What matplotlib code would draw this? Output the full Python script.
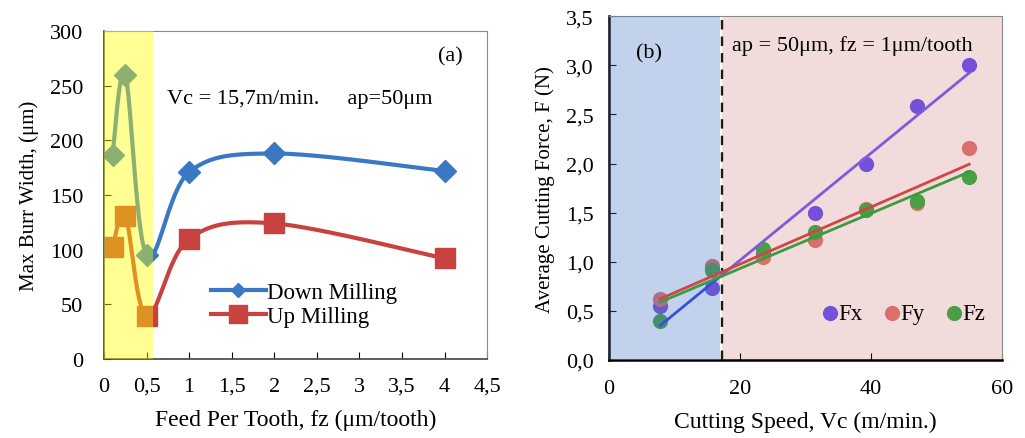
import numpy as np
import matplotlib
matplotlib.use("Agg")
import matplotlib.pyplot as plt
from matplotlib.ticker import FuncFormatter

plt.rcParams['font.family'] = ['Liberation Serif', 'DejaVu Serif']
plt.rcParams['font.size'] = 16

# ---- data, panel (a) ----
fz = [0.1, 0.25, 0.5, 1, 2, 4]
down_milling = [187, 260, 95, 171, 188, 172]
up_milling = [102, 131, 39, 110, 124, 92]

# ---- data, panel (b) ----
vc = [7.85, 15.7, 23.55, 31.4, 39.25, 47.1, 55]
fx = [0.55, 0.73, 1.08, 1.50, 2.00, 2.59, 3.00]
fy = [0.62, 0.96, 1.05, 1.22, 1.54, 1.60, 2.16]
fz_force = [0.40, 0.92, 1.13, 1.30, 1.53, 1.62, 1.86]

vc_split = 17.3   # dashed boundary between the two regimes


def smooth(x, y, xs, ys, n=40):
    # Excel-like smoothed line (Catmull-Rom), done in normalised coordinates
    p = np.column_stack([np.array(x) / xs, np.array(y) / ys])
    p = np.vstack([p[0], p, p[-1]])
    out = []
    for i in range(1, len(p) - 2):
        p0, p1, p2, p3 = p[i - 1], p[i], p[i + 1], p[i + 2]
        c1 = p1 + (p2 - p0) / 6
        c2 = p2 - (p3 - p1) / 6
        t = np.linspace(0, 1, n)[:, None]
        seg = (1 - t) ** 3 * p1 + 3 * (1 - t) ** 2 * t * c1 + 3 * (1 - t) * t ** 2 * c2 + t ** 3 * p2
        out.append(seg)
    out = np.vstack(out)
    return out[:, 0] * xs, out[:, 1] * ys


fig = plt.figure(figsize=(10.25, 4.39), dpi=100)

######## panel (a)
ax = fig.add_axes([0.1015, 0.18, 0.3737, 0.747])
blue = '#3A78C4'
red = '#C8423F'
sx, sy = smooth(fz, down_milling, 4.5, 300)
ax.plot(sx, sy, color=blue, lw=3, zorder=2)
ax.plot(fz, down_milling, 'D', color=blue, ms=11, zorder=2)
sx, sy = smooth(fz, up_milling, 4.5, 300)
ax.plot(sx, sy, color=red, lw=3, zorder=2)
ax.plot(fz, up_milling, 's', color=red, ms=14, zorder=2)
ax.axvspan(0, 0.57, color='#FFFF00', alpha=0.42, lw=0, zorder=3)

h1, = ax.plot([], [], color=blue, lw=3, marker='D', ms=7)
h2, = ax.plot([], [], color=red, lw=3, marker='s', ms=13)
ax.legend([h1, h2], ['Down Milling', 'Up Milling'], loc='upper left', bbox_to_anchor=(0.255, 0.262),
          frameon=False, handlelength=2.4, handletextpad=0.05, labelspacing=0.1, borderaxespad=0, fontsize=16.5)

ax.text(4.07, 277, '(a)', ha='center', va='center', fontsize=16)
ax.text(0.74, 238, 'Vc = 15,7m/min.     ap=50\u03bcm', ha='left', va='center', fontsize=16)

ax.set_xlim(0, 4.5)
ax.set_ylim(0, 300)
ax.set_xticks(np.arange(0, 4.51, 0.5))
ax.set_yticks(np.arange(0, 301, 50))
ax.xaxis.set_major_formatter(FuncFormatter(lambda v, pos: ('%g' % v).replace('.', ',')))
ax.tick_params(axis='x', direction='in', length=5, labelsize=16, pad=13)
ax.tick_params(axis='y', direction='in', length=5, labelsize=16, pad=15)
ax.set_xlabel('Feed Per Tooth, fz (\u03bcm/tooth)', fontsize=17, labelpad=9)
ax.set_ylabel('Max Burr Width, (\u03bcm)', fontsize=15, labelpad=8)
for s in ['top', 'right']:
    ax.spines[s].set_color('#8a8a8a')
for s in ['left', 'bottom']:
    ax.spines[s].set_color('#505050')
    ax.spines[s].set_linewidth(1.3)

######## panel (b)
bx = fig.add_axes([0.594, 0.1777, 0.3834, 0.783])
bx.axvspan(vc_split, 60, color='#F2DCDB', lw=0, zorder=0)
cols = ['#7550D8', '#D9706C', '#4A9E45']
lcols = ['#7B5BE0', '#D24545', '#3E9A3E']
names = ['Fx', 'Fy', 'Fz']
for vals, c, lc, nm in zip([fx, fy, fz_force], cols, lcols, names):
    k, b = np.polyfit(vc, vals, 1)
    xx = np.array([vc[0], vc[-1]])
    if nm == 'Fx':
        # the fit runs blue inside the low-speed zone, purple beyond it
        xa = np.array([vc[0], vc_split])
        xb = np.array([vc_split, vc[-1]])
        bx.plot(xa, k * xa + b, color='#3550E0', lw=2, zorder=5)
        bx.plot(xb, k * xb + b, color=lc, lw=2, zorder=5)
    else:
        bx.plot(xx, k * xx + b, color=lc, lw=2, zorder=5)
    bx.scatter(vc, vals, s=120, color=c, label=nm, zorder=2, linewidths=0)
bx.axvspan(0, 16.9, color='#4472C4', alpha=0.32, lw=0, zorder=3)
bx.axvline(vc_split, color='#1a1a1a', ls=(0, (4, 3)), lw=1.7, zorder=4)

bx.legend(loc='center right', bbox_to_anchor=(0.98, 0.134), ncol=3, frameon=False, handlelength=0.6,
          handletextpad=0.05, columnspacing=1.0, borderaxespad=0, fontsize=16.5, markerscale=1.0)

bx.text(6.1, 3.13, '(b)', ha='center', va='center', fontsize=16)
bx.text(18.8, 3.21, 'ap = 50\u03bcm, fz = 1\u03bcm/tooth', ha='left', va='center', fontsize=16)

bx.set_xlim(0, 60)
bx.set_ylim(0, 3.5)
bx.set_xticks([0, 20, 40, 60])
bx.set_yticks(np.arange(0, 3.51, 0.5))
bx.yaxis.set_major_formatter(FuncFormatter(lambda v, pos: ('%.1f' % v).replace('.', ',')))
bx.tick_params(axis='x', direction='in', length=5, labelsize=16, pad=14)
bx.tick_params(axis='y', direction='in', length=5, labelsize=16, pad=11)
bx.set_xlabel('Cutting Speed, Vc (m/min.)', fontsize=17, labelpad=9)
bx.set_ylabel('Average Cutting Force, F (N)', fontsize=15, labelpad=8)
for s in ['top', 'right']:
    bx.spines[s].set_color('#8a8a8a')
for s in ['left', 'bottom']:
    bx.spines[s].set_color('black')
    bx.spines[s].set_linewidth(1.8)

fig.savefig('out.png', dpi=100)
